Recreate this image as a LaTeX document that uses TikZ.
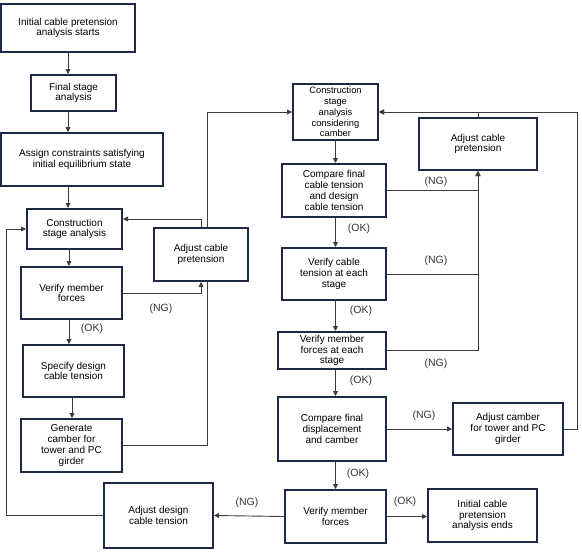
\documentclass[tikz,border=0pt]{standalone}
\usepackage{fontspec}
\setmainfont{Liberation Sans}
\usetikzlibrary{arrows.meta,backgrounds}
\definecolor{boxc}{RGB}{28,42,72}
\definecolor{linec}{RGB}{60,60,60}
\begin{document}
\begin{tikzpicture}[x=1pt,y=-1pt,
 box/.style={draw=boxc,line width=2pt,fill=white,align=center,inner sep=0pt,font=\fontsize{10}{10.8}\selectfont},
 conn/.style={draw=linec,line width=0.9pt},
 arr/.style={conn,-{Triangle[length=5pt,width=5pt]}},
 lbl/.style={font=\fontsize{10.5}{12}\selectfont,text=black!80,inner sep=0pt}]
\useasboundingbox (0,0) rectangle (582,552);
% left column
\node[box,minimum width=134pt,minimum height=48pt] (s) at (68,28) {Initial cable pretension\\analysis starts};
\node[box,minimum width=85pt,minimum height=36pt] (fin) at (73.5,93) {Final stage\\analysis};
\node[box,minimum width=162pt,minimum height=53pt] (asg) at (82,159.5) {Assign constraints satisfying\\initial equilibrium state};
\node[box,minimum width=95pt,minimum height=40pt] (csa) at (74.5,229) {Construction\\stage analysis};
\node[box,minimum width=94pt,minimum height=53pt] (acpa) at (201,254.5) {Adjust cable\\pretension};
\node[box,minimum width=101pt,minimum height=52pt] (vmf) at (71.5,293) {Verify member\\forces};
\node[box,minimum width=101pt,minimum height=52pt] (sdc) at (73.5,371) {Specify design\\cable tension};
\node[box,minimum width=101pt,minimum height=53pt] (gen) at (71.5,445.5) {Generate\\camber for\\tower and PC\\girder};
\node[box,minimum width=109pt,minimum height=65pt] (adc) at (158.5,515.5) {Adjust design\\cable tension};
% right column
\node[box,minimum width=85pt,minimum height=56pt,font=\fontsize{9.3}{10.7}\selectfont] (csc) at (335.5,112) {Construction\\stage\\analysis\\considering\\camber};
\node[box,minimum width=118pt,minimum height=52pt] (acpb) at (478,144) {Adjust cable\\pretension};
\node[box,minimum width=104pt,minimum height=53pt] (cft) at (334,190.5) {Compare final\\cable tension\\and design\\cable tension};
\node[box,minimum width=104pt,minimum height=52pt] (vct) at (334,274) {Verify cable\\tension at each\\stage};
\node[box,minimum width=108pt,minimum height=37pt] (vmfs) at (332,350.5) {Verify member\\forces at each\\stage};
\node[box,minimum width=108pt,minimum height=64pt] (cfd) at (332,429) {Compare final\\displacement\\and camber};
\node[box,minimum width=110pt,minimum height=52pt] (acam) at (508,429) {Adjust camber\\for tower and PC\\girder};
\node[box,minimum width=101pt,minimum height=53pt] (vmfb) at (335.5,516.5) {Verify member\\forces};
\node[box,minimum width=109pt,minimum height=53pt] (fend) at (482.5,515.5) {Initial cable\\pretension\\analysis ends};
% labels
\node[lbl] (l1) at (161,309) {(NG)};
\node[lbl] (l2) at (92,329) {(OK)};
\node[lbl] (l3) at (436,182) {(NG)};
\node[lbl] (l4) at (359,229) {(OK)};
\node[lbl] (l5) at (436,261) {(NG)};
\node[lbl] (l6) at (361,311) {(OK)};
\node[lbl] (l7) at (436,364) {(NG)};
\node[lbl] (l8) at (361,381) {(OK)};
\node[lbl] (l9) at (424,416) {(NG)};
\node[lbl] (l10) at (358,474) {(OK)};
\node[lbl] (l11) at (405,502) {(OK)};
\node[lbl] (l12) at (247,503) {(NG)};
\begin{scope}[on background layer]
\draw[arr] (s.south) -- (s.south |- fin.north);
\draw[arr] (s.south |- fin.south) -- (s.south |- asg.north);
\draw[arr] (s.south |- asg.south) -- (s.south |- csa.north);
\draw[arr] ([xshift=1pt]s.south |- csa.south) -- ([xshift=1pt]s.south |- vmf.north);
\draw[arr] ([xshift=1pt]s.south |- vmf.south) -- ([xshift=1pt]s.south |- sdc.north);
\draw[arr] ([xshift=4pt]s.south |- sdc.south) -- ([xshift=4pt]s.south |- gen.north);
\draw[arr] (vmf.east) -| (acpa.south);
\draw[arr] (acpa.north) |- ([yshift=10pt]csa.east);
\draw[arr] (gen.east) -- ++(84,0) |- (csc.west);
\draw[arr] (vmfb.west) -- (adc.east);
\draw[arr] (adc.west) -- ++(-97,0) |- (csa.west);
\draw[arr] (csc.south) -- (csc.south |- cft.north);
\draw[arr] (cft.east) -| (acpb.south);
\draw[conn] (vct.east) -- (vct.east -| acpb.south);
\draw[arr] (vmfs.east) -| (acpb.south);
\draw[arr] (acpb.north) |- (csc.east);
\draw[arr] (csc.south |- cft.south) -- (csc.south |- vct.north);
\draw[arr] (csc.south |- vct.south) -- (csc.south |- vmfs.north);
\draw[arr] (csc.south |- vmfs.south) -- (csc.south |- cfd.north);
\draw[arr] (cfd.east) -- (acam.west);
\draw[arr] (acam.east) -- ++(13,0) |- (csc.east);
\draw[arr] (csc.south |- cfd.south) -- (csc.south |- vmfb.north);
\draw[arr] (vmfb.east) -- (vmfb.east -| fend.west);
\end{scope}
\end{tikzpicture}
\end{document}
